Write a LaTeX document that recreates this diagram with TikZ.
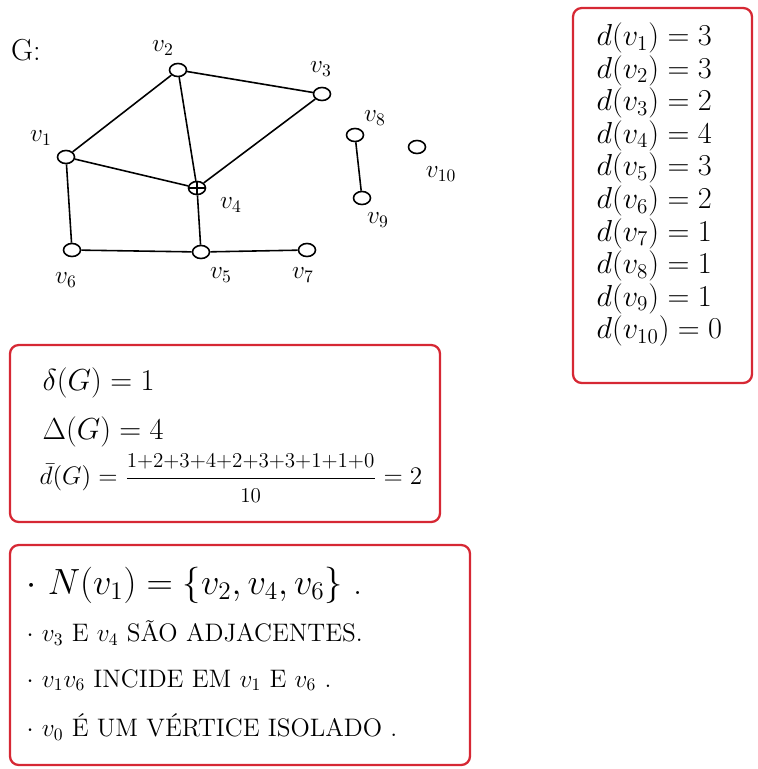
\documentclass[tikz,border=0pt]{standalone}
\usepackage{amsmath}
\usepackage{xcolor}
\usepackage{tikz}
\usetikzlibrary{positioning,shapes.geometric}
\definecolor{boxred}{RGB}{214,40,52}

\begin{document}
\begin{tikzpicture}[line width=0.9pt,
  vtx/.style={draw, ellipse, minimum width=0.34cm, minimum height=0.26cm, inner sep=0pt},
  vlbl/.style={font=\Large},
  redbox/.style={draw=boxred, line width=1.3pt, rounded corners=5pt}]
\useasboundingbox (0,0) rectangle (15.16,-15.38);
% graph G
\node[font=\LARGE] (gname) at (0.52,-1.0) {G:};
\foreach \n/\x/\y in {1/1.32/-3.14, 2/3.56/-1.40, 3/6.44/-1.88, 4/3.94/-3.76, 5/4.02/-5.04,
                     6/1.44/-5.00, 7/6.14/-5.00, 8/7.10/-2.70, 9/7.24/-3.96, 10/8.34/-2.94}{
  \node[vtx] (v\n) at (\x,\y) {};
}
\draw (v4.north) -- (v4.south) (v4.west) -- (v4.east);
\foreach \a/\b in {1/2, 2/3, 2/4, 3/4, 1/4, 1/6, 6/5, 4/5, 5/7, 8/9}{
  \draw (v\a) -- (v\b);
}
% vertex names
\node[vlbl] (l1) at (0.82,-2.76) {$v_1$};
\node[vlbl] (l2) at (3.26,-0.96) {$v_2$};
\node[vlbl] (l3) at (6.42,-1.38) {$v_3$};
\node[vlbl] (l4) at (4.62,-4.10) {$v_4$};
\node[vlbl] (l5) at (4.42,-5.50) {$v_5$};
\node[vlbl] (l6) at (1.32,-5.60) {$v_6$};
\node[vlbl] (l7) at (6.06,-5.50) {$v_7$};
\node[vlbl] (l8) at (7.50,-2.36) {$v_8$};
\node[vlbl] (l9) at (7.56,-4.40) {$v_9$};
\node[vlbl] (l10) at (8.82,-3.48) {$v_{10}$};
% degrees
\draw[redbox] (11.46,-0.16) rectangle (15.04,-7.66);
\foreach \i/\k in {1/3,2/3,3/2,4/4,5/3,6/2,7/1,8/1,9/1,10/0}{
  \node[anchor=west, font=\LARGE] (d\i) at (11.8,-0.76-0.652*\i+0.652) {$d(v_{\i}) = \k$};
}
% min, max and average degree
\draw[redbox] (0.2,-6.9) rectangle (8.8,-10.44);
\node[anchor=west, font=\LARGE] (dmin) at (0.72,-7.66) {$\delta(G) = 1$};
\node[anchor=west, font=\LARGE] (dmax) at (0.72,-8.64) {$\Delta(G) = 4$};
\node[anchor=west, font=\Large] (dmed) at (0.66,-9.56)
  {$\bar{d}(G) = \dfrac{\mbox{\large$1{+}2{+}3{+}4{+}2{+}3{+}3{+}1{+}1{+}0$}}{\mbox{\large$10$}} = 2$};
% notes
\draw[redbox] (0.2,-10.9) rectangle (9.4,-15.3);
\node[anchor=west, font=\huge] (n1) at (0.4,-11.70) {$\cdot\ N(v_1) = \{v_2, v_4, v_6\}$ .};
\node[anchor=west, font=\Large] (n2) at (0.4,-12.66) {$\cdot\ v_3$ E $v_4$ SÃO ADJACENTES.};
\node[anchor=west, font=\Large] (n3) at (0.4,-13.60) {$\cdot\ v_1v_6$ INCIDE EM $v_1$ E $v_6$ .};
\node[anchor=west, font=\Large] (n4) at (0.4,-14.54) {$\cdot\ v_0$ É UM VÉRTICE ISOLADO .};
\end{tikzpicture}
\end{document}
